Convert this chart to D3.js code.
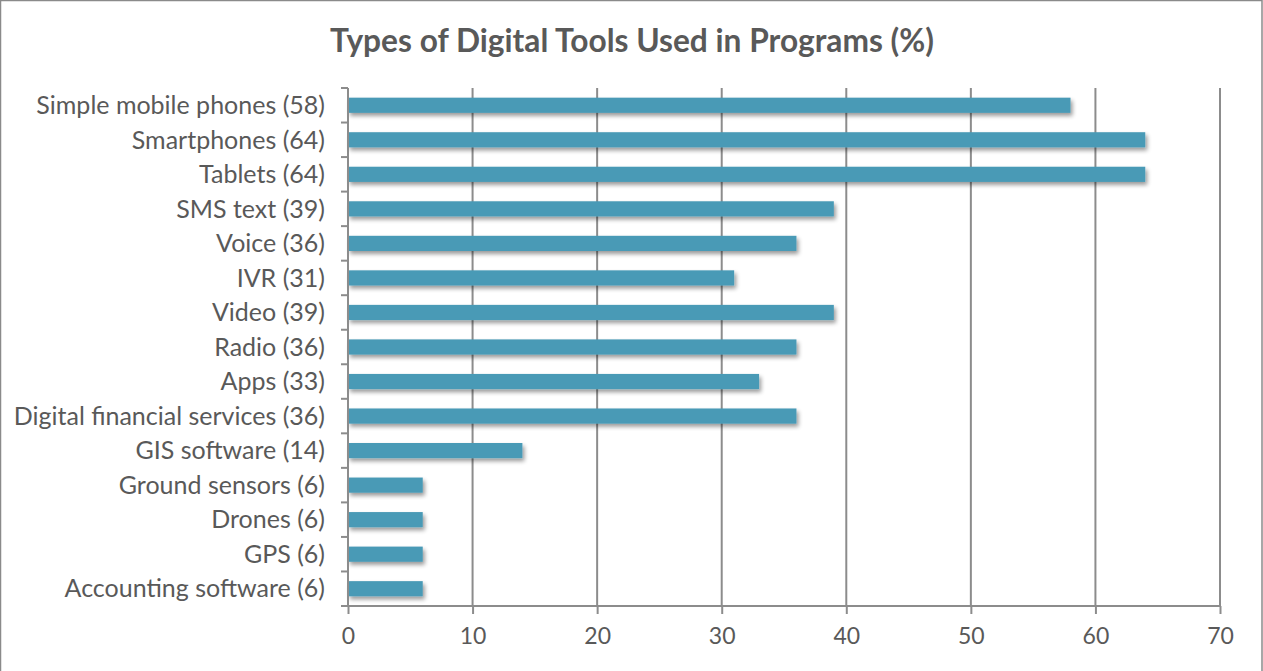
<!DOCTYPE html>
<html><head><meta charset="utf-8">
<script src="https://cdn.jsdelivr.net/npm/d3@7"></script>
<style>body{margin:0;background:#fff;} svg{display:block;}</style>
</head><body>
<script>
const categories = ["Simple mobile phones (58)","Smartphones (64)","Tablets (64)","SMS text (39)","Voice (36)","IVR (31)","Video (39)","Radio (36)","Apps (33)","Digital financial services (36)","GIS software (14)","Ground sensors (6)","Drones (6)","GPS (6)","Accounting software (6)"];
const values = [58,64,64,39,36,31,39,36,33,36,14,6,6,6,6];
const xTicks = [0,10,20,30,40,50,60,70];
const title = "Types of Digital Tools Used in Programs (%)";

const W = 1263, H = 671;
const m = {left:348, right:43, top:88, bottom:65};
const svg = d3.select("body").append("svg").attr("width",W).attr("height",H);
const font = "Lato, 'Open Sans', sans-serif";

const defs = svg.append("defs");
const f = defs.append("filter").attr("id","sh").attr("x","-10%").attr("y","-50%").attr("width","130%").attr("height","250%");
f.append("feGaussianBlur").attr("in","SourceAlpha").attr("stdDeviation",2.2);
f.append("feOffset").attr("dx",2).attr("dy",3).attr("result","ob");
f.append("feComponentTransfer").append("feFuncA").attr("type","linear").attr("slope",0.4);
const mg = f.append("feMerge"); mg.append("feMergeNode"); mg.append("feMergeNode").attr("in","SourceGraphic");

svg.append("rect").attr("x",0.5).attr("y",0.5).attr("width",W-1.5).attr("height",H+5).attr("fill","#fff").attr("stroke","#8a8a8a").attr("stroke-width",1.5);

const x = d3.scaleLinear().domain([0,70]).range([m.left, W-m.right]);
const y = d3.scaleBand().domain(categories).range([m.top, H-m.bottom]).paddingInner(0.56).paddingOuter(0.28);
const yb = d3.scaleBand().domain(categories).range([m.top, H-m.bottom]);

// gridlines
svg.append("g").selectAll("line").data(xTicks.slice(1)).join("line")
  .attr("x1",d=>x(d)).attr("x2",d=>x(d)).attr("y1",m.top).attr("y2",H-m.bottom)
  .attr("stroke","#8c8c8c").attr("stroke-width",2);

// bars
svg.append("g").attr("filter","url(#sh)").selectAll("rect").data(values).join("rect")
  .attr("x",x(0)).attr("y",(d,i)=>y(categories[i])).attr("width",d=>x(d)-x(0)).attr("height",y.bandwidth())
  .attr("fill","#4a9ab6");

// x axis
const xa = svg.append("g").attr("transform",`translate(0,${H-m.bottom})`)
  .call(d3.axisBottom(x).tickValues(xTicks).tickSize(8).tickPadding(14));
xa.select(".domain").attr("stroke","#8c8c8c").attr("stroke-width",2).attr("d",`M${x(0)},0H${x(70)}`);
xa.selectAll(".tick line").attr("stroke","#8c8c8c").attr("stroke-width",2);
xa.selectAll("text").attr("fill","#595959").style("font-family",font).style("font-size","23px");

// y axis with ticks at band boundaries
const ya = svg.append("g").attr("transform",`translate(${x(0)},0)`);
ya.append("line").attr("x1",0).attr("x2",0).attr("y1",m.top).attr("y2",H-m.bottom).attr("stroke","#8c8c8c").attr("stroke-width",2);
const bounds = categories.map(c=>yb(c)).concat([H-m.bottom]);
ya.selectAll("line.t").data(bounds).join("line").attr("class","t")
  .attr("x1",-7).attr("x2",0).attr("y1",d=>d).attr("y2",d=>d).attr("stroke","#8c8c8c").attr("stroke-width",2);
ya.selectAll("text").data(categories).join("text")
  .attr("x",-23).attr("y",d=>yb(d)+yb.bandwidth()/2).attr("dy","0.35em").attr("text-anchor","end")
  .attr("fill","#595959").style("font-family",font).style("font-size","25px").text(d=>d);

svg.append("text").attr("x",632).attr("y",52).attr("text-anchor","middle")
  .attr("fill","#595959").style("font-family",font).style("font-weight","bold").style("font-size","31.7px").text(title);
</script>
</body></html>
